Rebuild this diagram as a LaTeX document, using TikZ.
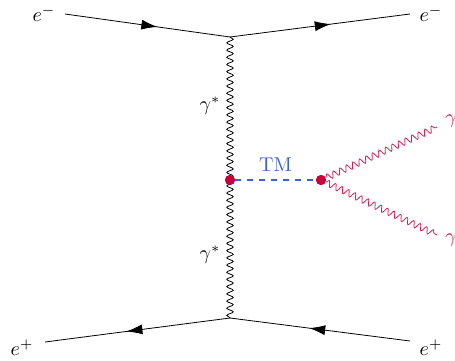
\documentclass[tikz,border=0pt]{standalone}
\usepackage{amsmath}
\usepackage{tikz}
\usetikzlibrary{arrows.meta, decorations.markings, decorations.pathmorphing}

\definecolor{dotred}{RGB}{200,0,60}
\definecolor{photred}{RGB}{215,30,85}
\definecolor{tmblue}{RGB}{60,95,215}

\begin{document}
\begin{tikzpicture}[
        x=0.5pt, y=-0.5pt,
        fermion/.style={thin, postaction={decorate},
            decoration={markings, mark=at position 0.56 with {\arrow{Latex[length=8pt,width=5pt]}}}},
        photon/.style={thin, decorate,
            decoration={snake, segment length=3.6pt, amplitude=1.6pt}},
        scalar/.style={thick, dashed, tmblue},
        vdot/.style={circle, fill=dotred, inner sep=0pt, minimum size=5pt},
        lbl/.style={inner sep=1pt}
    ]
        \useasboundingbox (0,0) rectangle (455,360);

        % Vertices and free ends
        \coordinate (vtop) at (230,37);
        \coordinate (vbot) at (230,318);
        \coordinate (inl) at (65,14);
        \coordinate (outr) at (410,14);
        \coordinate (posl) at (45,342);
        \coordinate (posr) at (410,341);
        \coordinate (ga) at (437,127);
        \coordinate (gb) at (437,235);
        \node[vdot] (vmid) at (230,180) {};
        \node[vdot] (vtm) at (321,180) {};

        % Labels
        \node[lbl] (lem1) at (44,14) {$e^-$};
        \node[lbl] (lem2) at (431,14) {$e^-$};
        \node[lbl] (lep1) at (22,348) {$e^+$};
        \node[lbl] (lep2) at (431,348) {$e^+$};
        \node[lbl] (lgs1) at (210,106) {$\gamma^*$};
        \node[lbl] (lgs2) at (210,255) {$\gamma^*$};
        \node[lbl, text=photred] (lga) at (451,121) {$\gamma$};
        \node[lbl, text=photred] (lgb) at (451,240) {$\gamma$};

        % Electron and positron lines
        \draw[fermion] (inl) -- (vtop);
        \draw[fermion] (vtop) -- (outr);
        \draw[fermion] (vbot) -- (posl);
        \draw[fermion] (posr) -- (vbot);

        % Virtual photons
        \draw[photon] (vtop) -- (vmid.center);
        \draw[photon] (vmid.center) -- (vbot);

        % TM line
        \draw[scalar] (vmid) -- node[above=0.5pt, text=tmblue] {TM} (vtm);

        % Final photons
        \draw[photon, photred] (vtm) -- (ga);
        \draw[photon, photred] (vtm) -- (gb);

        \node[vdot] at (vmid) {};
        \node[vdot] at (vtm) {};
    \end{tikzpicture}
\end{document}
